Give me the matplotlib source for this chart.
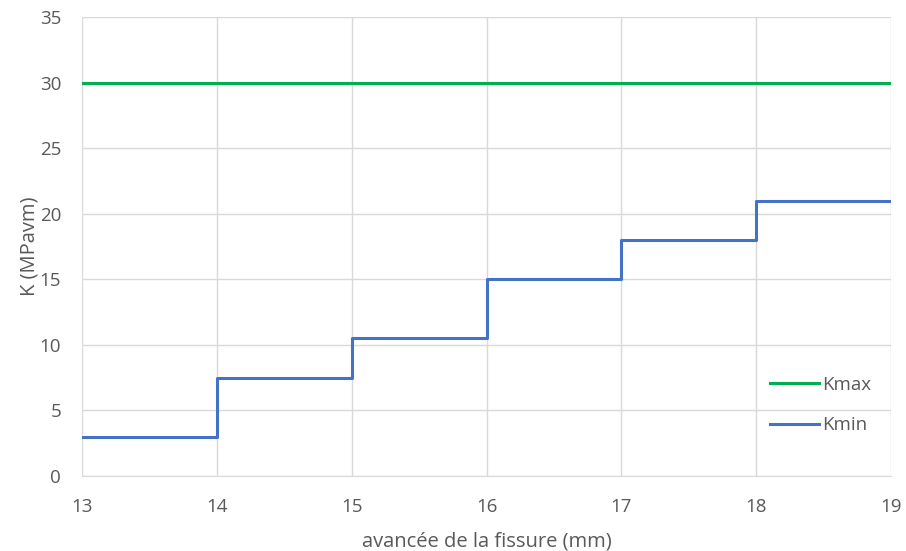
import matplotlib
matplotlib.use("Agg")
import matplotlib.pyplot as plt

# crack advance (mm) and stress intensity values
avancee = [13, 14, 15, 16, 17, 18, 19]
kmin = [3, 7.5, 10.5, 15, 18, 21, 21]
kmax = [30, 30, 30, 30, 30, 30, 30]

plt.rcParams['font.family'] = ['Open Sans', 'DejaVu Sans']
TXT = '#595959'

fig = plt.figure(figsize=(9.06, 5.51), dpi=100)
ax = fig.add_axes([0.0905, 0.136, 0.893, 0.833])

ax.plot(avancee, kmax, color='#00B050', linewidth=2.2, label='Kmax')
ax.step(avancee, kmin, where='post', color='#4472C4', linewidth=2.2, label='Kmin')

ax.set_xlim(13, 19)
ax.set_ylim(0, 35)
ax.set_xticks(range(13, 20))
ax.set_yticks(range(0, 36, 5))
ax.grid(True, color='#d9d9d9', linewidth=1)
ax.set_axisbelow(True)
for side in ['top', 'right', 'left']:
    ax.spines[side].set_visible(False)
ax.spines['bottom'].set_color('#d9d9d9')
ax.tick_params(length=0, labelsize=13.5, colors=TXT)
ax.tick_params(axis='x', pad=16)
ax.tick_params(axis='y', pad=15)

ax.set_xlabel('avancée de la fissure (mm)', fontsize=14.5, color=TXT, labelpad=11)
ax.set_ylabel('K (MPavm)', fontsize=14.5, color=TXT, labelpad=0)

leg = ax.legend(loc='center left', bbox_to_anchor=(0.83, 0.155), frameon=False,
                fontsize=13.5, labelspacing=1.2, handlelength=2.6, handletextpad=0.15)
for t in leg.get_texts():
    t.set_color(TXT)

fig.savefig('out.png', dpi=100)
